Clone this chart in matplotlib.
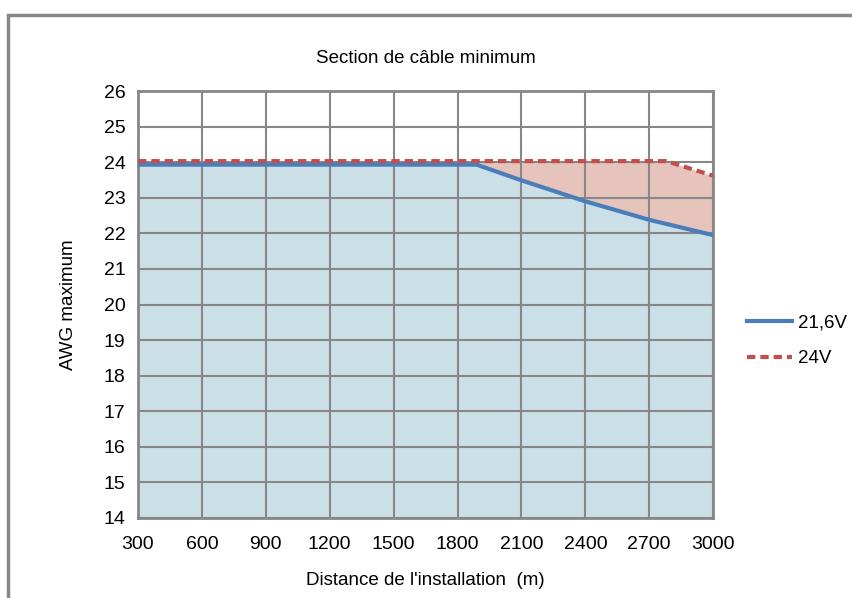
import matplotlib
matplotlib.use("Agg")
import matplotlib.pyplot as plt
from matplotlib.patches import Rectangle

plt.rcParams['font.family'] = ['Liberation Sans', 'DejaVu Sans']

# data
dist_216 = [300, 1890, 2100, 2400, 2700, 3000]
awg_216 = [23.93, 23.93, 23.49, 22.9, 22.38, 21.95]
dist_24 = [300, 2780, 3000]
awg_24 = [24.03, 24.03, 23.62]
x_ticks = [300, 600, 900, 1200, 1500, 1800, 2100, 2400, 2700, 3000]
y_ticks = list(range(14, 27))

grid_col = '#878787'

fig = plt.figure(figsize=(8.52, 5.98), dpi=100)
fig.patches.append(Rectangle((0.009, -0.1), 1.1, 1.075, transform=fig.transFigure,
                             fill=False, edgecolor='#888888', linewidth=2.5))

ax = fig.add_axes([0.162, 0.1338, 0.675, 0.714])

# fills
ax.fill_between(dist_24, awg_24, 14, color='#e6c4bc', zorder=1, linewidth=0)
ax.fill_between(dist_216, awg_216, 14, color='#cbdfe7', zorder=1.5, linewidth=0)

ax.plot(dist_216, awg_216, color='#4a7ebb', linewidth=3, label='21,6V', zorder=3)
ax.plot(dist_24, awg_24, color='#c0504d', linewidth=3, linestyle=(0, (2, 1.2)),
        label='24V', zorder=3.5)

ax.set_xlim(300, 3000)
ax.set_ylim(14, 26)
ax.set_xticks(x_ticks)
ax.set_yticks(y_ticks)
ax.grid(True, color=grid_col, linewidth=1.5, zorder=2)
ax.set_axisbelow(False)
for s in ax.spines.values():
    s.set_color(grid_col)
    s.set_linewidth(2)
ax.tick_params(length=0, labelsize=14)
ax.tick_params(axis='x', pad=13)
ax.tick_params(axis='y', pad=9)

ax.set_title('Section de câble minimum', fontsize=13.5, pad=20)
ax.set_xlabel("Distance de l'installation  (m)", fontsize=13.5, labelpad=14)
ax.set_ylabel('AWG maximum', fontsize=13.5, labelpad=19)

ax.legend(loc='center left', bbox_to_anchor=(1.03, 0.415), frameon=False,
          fontsize=13.5, handlelength=2.4, handletextpad=0.3, labelspacing=1.0)

fig.savefig('out.png', dpi=100)
